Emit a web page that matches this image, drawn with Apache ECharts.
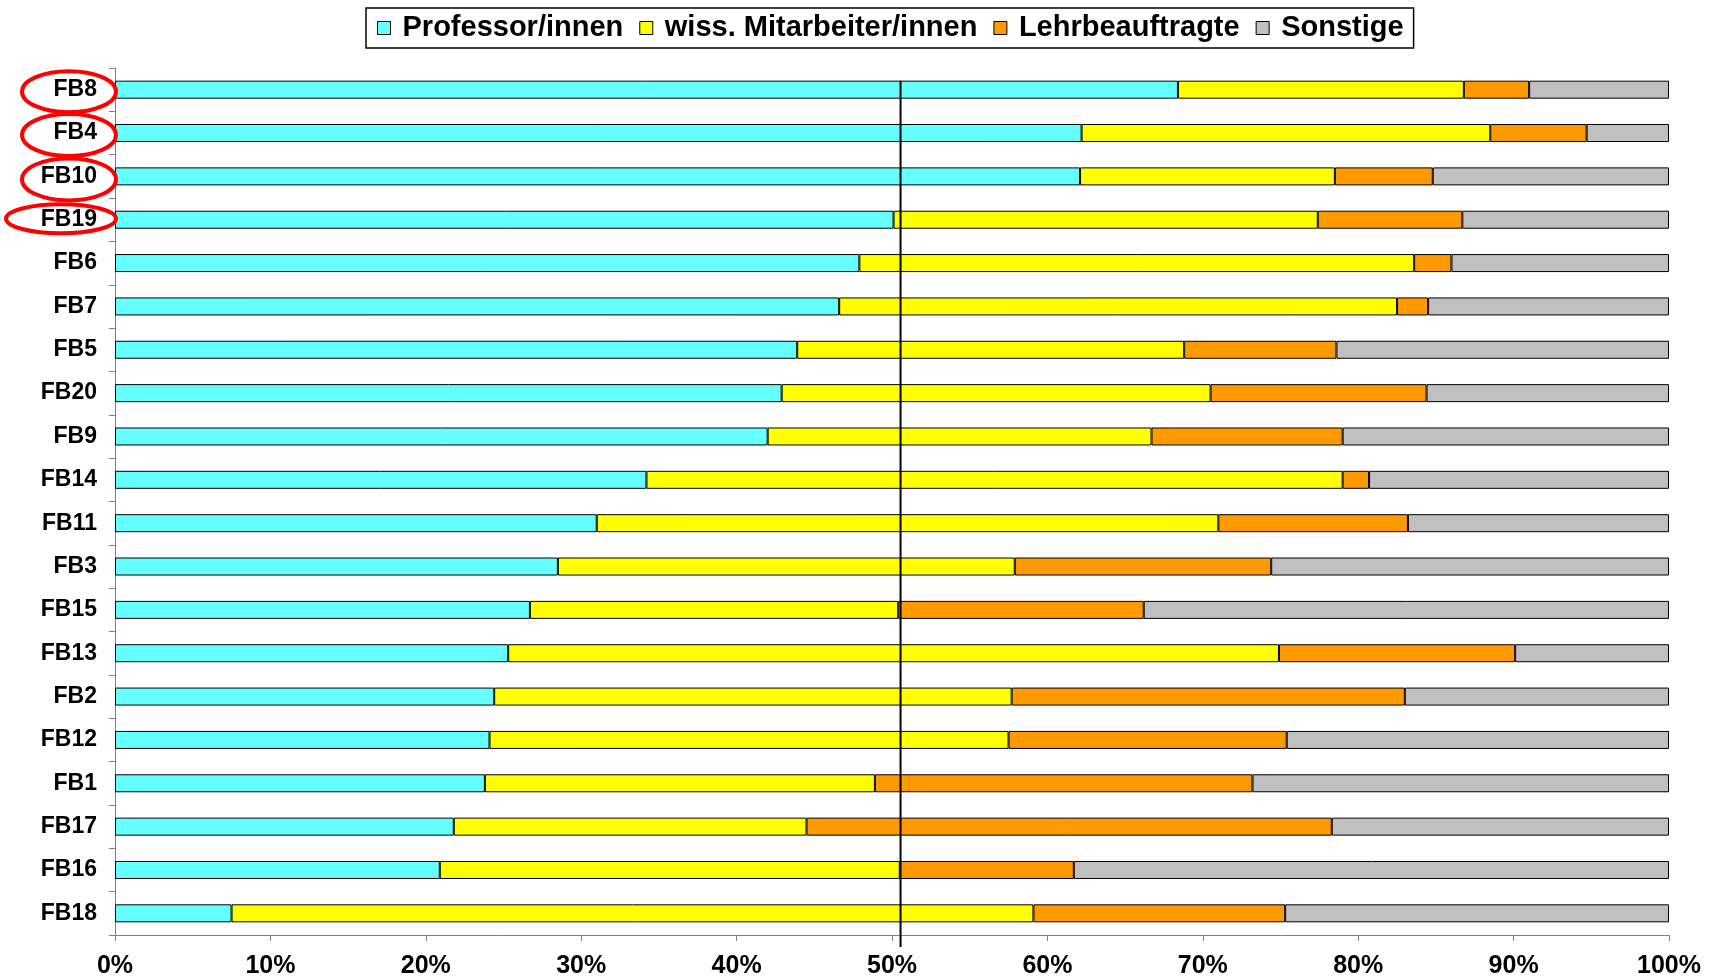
<!DOCTYPE html>
<html>
<head>
<meta charset="utf-8">
<script src="https://cdn.jsdelivr.net/npm/echarts@6/dist/echarts.min.js"></script>
<style>
    html, body { margin: 0; padding: 0; background: #fff; }
    #chart { width: 1723px; height: 980px; }
</style>
</head>
<body>
<div id="chart"></div>
<script>
// Fachbereiche, von oben nach unten
const categories = ['FB8', 'FB4', 'FB10', 'FB19', 'FB6', 'FB7', 'FB5', 'FB20', 'FB9', 'FB14',
    'FB11', 'FB3', 'FB15', 'FB13', 'FB2', 'FB12', 'FB1', 'FB17', 'FB16', 'FB18'];

// Anteile in %
const professoren     = [68.4, 62.2, 62.1, 50.1, 47.9, 46.6, 43.9, 42.9, 42.0, 34.2, 31.0, 28.5, 26.7, 25.3, 24.4, 24.1, 23.8, 21.8, 20.9, 7.5];
const mitarbeiter     = [18.4, 26.3, 16.4, 27.3, 35.7, 35.9, 24.9, 27.6, 24.7, 44.8, 40.0, 29.4, 23.7, 49.6, 33.3, 33.4, 25.1, 22.7, 29.6, 51.6];
const lehrbeauftragte = [4.2, 6.2, 6.3, 9.3, 2.4, 2.0, 9.8, 13.9, 12.3, 1.7, 12.2, 16.5, 15.8, 15.2, 25.3, 17.9, 24.3, 33.8, 11.2, 16.2];
const sonstige        = [9.0, 5.3, 15.2, 13.3, 14.0, 15.5, 21.4, 15.6, 21.0, 19.3, 16.8, 25.6, 33.8, 9.9, 17.0, 24.6, 26.8, 21.7, 38.3, 24.7];

const tickLabels = ['0%', '10%', '20%', '30%', '40%', '50%', '60%', '70%', '80%', '90%', '100%'];
const refLine = 50.55;

// rot umkreiste Fachbereiche
const circled = ['FB8', 'FB4', 'FB10', 'FB19'];
const ellipseStyle = [
    { dx: -46, dy: 2, rx: 47, ry: 20.5 },
    { dx: -46, dy: 2, rx: 47, ry: 21 },
    { dx: -46, dy: 3, rx: 47, ry: 21 },
    { dx: -54, dy: -1, rx: 55, ry: 14.5 }
];

const font = 'Liberation Sans, Arial, sans-serif';

const makeSeries = (name, data, color) => ({
    name: name,
    type: 'bar',
    stack: 'total',
    barWidth: 18,
    data: data,
    itemStyle: {
        color: color,
        borderColor: '#000',
        borderWidth: 1
    }
});

const series = [
    makeSeries('Professor/innen', professoren, '#66FFFF'),
    makeSeries('wiss. Mitarbeiter/innen', mitarbeiter, '#FFFF00'),
    makeSeries('Lehrbeauftragte', lehrbeauftragte, '#FF9900'),
    makeSeries('Sonstige', sonstige, '#C0C0C0')
];

const chart = echarts.init(document.getElementById('chart'), null, { renderer: 'canvas' });

chart.setOption({
    animation: false,
    backgroundColor: '#fff',
    textStyle: { fontFamily: font },
    grid: {
        left: 115,
        right: 54,
        top: 68,
        bottom: 45,
        containLabel: false
    },
    legend: {
        left: 366,
        top: 8,
        padding: [5, 10, 5, 11],
        itemGap: 16,
        itemWidth: 13,
        itemHeight: 13,
        borderColor: '#000',
        borderWidth: 1.5,
        icon: 'rect',
        itemStyle: { borderColor: '#000', borderWidth: 1 },
        textStyle: {
            color: '#000',
            fontSize: 29,
            fontWeight: 'bold',
            fontFamily: font,
            lineHeight: 30,
            padding: [0, 0, 0, 7]
        },
        data: series.map(s => s.name)
    },
    xAxis: {
        type: 'value',
        min: 0,
        max: 100,
        interval: 10,
        axisLine: { show: true, lineStyle: { color: '#808080', width: 1 } },
        axisTick: { show: true, length: 6, lineStyle: { color: '#808080' } },
        splitLine: { show: false },
        axisLabel: {
            margin: 19,
            color: '#000',
            fontSize: 25,
            fontWeight: 'bold',
            fontFamily: font,
            formatter: v => tickLabels[Math.round(v / 10)]
        }
    },
    yAxis: {
        type: 'category',
        inverse: true,
        data: categories,
        axisLine: { show: true, lineStyle: { color: '#808080', width: 1 } },
        axisTick: { show: true, length: 6, lineStyle: { color: '#808080' } },
        axisLabel: {
            margin: 18,
            color: '#000',
            fontSize: 23,
            fontWeight: 'bold',
            fontFamily: font
        }
    },
    series: series
});

// senkrechte Linie und Ellipsen um die Achsenbeschriftungen
const x0 = chart.convertToPixel({ xAxisIndex: 0 }, 0);
const xRef = chart.convertToPixel({ xAxisIndex: 0 }, refLine);
const yTop = chart.convertToPixel({ yAxisIndex: 0 }, categories[0]) - 9;
const yBottom = chart.getHeight() - 45 + 12;

const graphics = circled.map((c, i) => {
    const y = chart.convertToPixel({ yAxisIndex: 0 }, c);
    const st = ellipseStyle[i];
    return {
        type: 'ellipse',
        z: 100,
        silent: true,
        shape: { cx: x0 + st.dx, cy: y + st.dy, rx: st.rx, ry: st.ry },
        style: { fill: 'none', stroke: '#FF0000', lineWidth: 4 }
    };
});
graphics.push({
    type: 'line',
    z: 100,
    silent: true,
    shape: { x1: xRef, y1: yTop, x2: xRef, y2: yBottom },
    style: { stroke: '#000', lineWidth: 2 }
});

chart.setOption({ graphic: graphics });
</script>
</body>
</html>
